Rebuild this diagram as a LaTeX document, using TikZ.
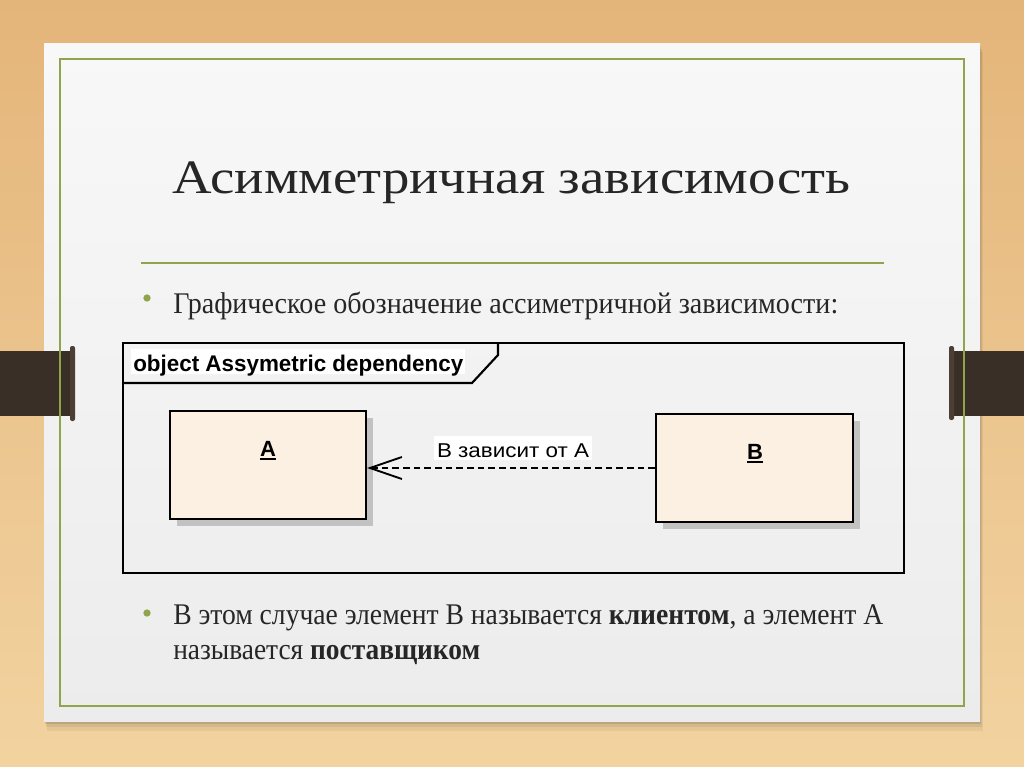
\documentclass[tikz,border=0pt]{standalone}
\usepackage{fontspec}
\setmainfont{Liberation Serif}
\setsansfont{Liberation Sans}
\usetikzlibrary{arrows.meta,shadows}
\definecolor{woodtop}{HTML}{E4B57A}
\definecolor{woodbot}{HTML}{F2D3A0}
\definecolor{paperA}{HTML}{F8F8F8}
\definecolor{paperB}{HTML}{ECECEC}
\definecolor{olive}{HTML}{8FA44C}
\definecolor{boxfill}{HTML}{FBF0E1}
\definecolor{shadowgray}{HTML}{C2C2C2}
\definecolor{ink}{HTML}{262626}
\definecolor{strapcol}{HTML}{3A2F27}
\definecolor{strapcap}{HTML}{4B3F35}
\newcommand\fitw[2]{\resizebox{#1}{\height}{#2}}
\newcommand\ulabel[1]{\vtop{\hbox{#1}\kern1.3pt\hrule height 1.6pt}}
\tikzset{
  slidetext/.style={anchor=base west, inner sep=0pt, text=ink},
  bulletdot/.style={circle, fill=olive, inner sep=0pt, minimum size=5.5pt},
  objbox/.style={draw=black, line width=1.6pt, fill=boxfill, inner sep=0pt,
    minimum height=81pt,
    drop shadow={shadow xshift=5.25pt, shadow yshift=-5.25pt, fill=shadowgray, opacity=1}},
  boxlabel/.style={anchor=base, inner sep=0pt, font=\sffamily\bfseries\fontsize{16.5pt}{18pt}\selectfont},
  deplabel/.style={anchor=base, fill=white, inner xsep=2.25pt, inner ysep=0pt,
    text height=15.75pt, text depth=2.25pt},
  dep/.style={line width=1.6pt, dash pattern=on 5pt off 3pt,
    -{Straight Barb[length=24pt,width=16.5pt,line width=1.4pt]}},
  framehead/.style={anchor=base west, fill=white, inner xsep=1.5pt, inner ysep=0pt,
    text height=16.5pt, text depth=2.25pt}
}
\begin{document}
\begin{tikzpicture}[x=0.75pt,y=-0.75pt]
\useasboundingbox (0,0) rectangle (1024,767);
% wood background
\shade[top color=woodtop,bottom color=woodbot] (0,0) rectangle (1024,767);
% paper shadow
\fill[black,opacity=0.05] (47,52) rectangle (983,731);
\fill[black,opacity=0.07] (46,49) rectangle (982,727);
\fill[black,opacity=0.10] (45,46) rectangle (981,724);
% paper
\shade[top color=paperA,bottom color=paperB] (44,44) rectangle (980,721);
% straps
\fill[strapcol] (0,351) rectangle (72,416);
\fill[strapcap,rounded corners=1.5pt] (70,346) rectangle (75,421);
\fill[strapcol] (953,351) rectangle (1024,416);
\fill[strapcap,rounded corners=1.5pt] (949,346) rectangle (954,420);
% green frame and divider
\draw[olive,line width=1.5pt] (60,59) rectangle (964,706);
\draw[olive,line width=2pt] (141,263) -- (884,263);
% title
\node[slidetext] (title) at (172,193)
  {\fitw{508.5pt}{\fontsize{36pt}{40pt}\selectfont Асимметричная зависимость}};
% bullet 1
\node[bulletdot] (dot1) at (147,298) {};
\node[slidetext] (line1) at (173,313)
  {\fitw{498.75pt}{\fontsize{22.5pt}{27pt}\selectfont Графическое обозначение ассиметричной зависимости:}};
% UML frame
\draw[line width=1.6pt] (123,343) rectangle (904,573);
\draw[line width=1.6pt] (123,383) -- (472,383) -- (498,355) -- (498,343);
\node[framehead] (head) at (131,371)
  {\fitw{247.5pt}{\sffamily\bfseries\fontsize{17pt}{18pt}\selectfont object Assymetric dependency}};
% objects
\node[objbox, minimum width=147pt] (A) at (268,465) {};
\node[objbox, minimum width=147.75pt] (B) at (754.5,468) {};
\node[boxlabel] (Alab) at (268,456) {\ulabel{A}};
\node[boxlabel] (Blab) at (755,459) {\ulabel{B}};
% dependency
\draw[dep] (B.west) -- (B.west -| A.east);
\node[deplabel] (deptext) at (513,457)
  {\fitw{114pt}{\sffamily\fontsize{15pt}{16pt}\selectfont В зависит от А}};
% bullet 2
\node[bulletdot] (dot2) at (147,613) {};
\node[slidetext] (line2) at (173,624)
  {\fitw{532.5pt}{\fontsize{22.5pt}{27pt}\selectfont В этом случае элемент В называется \textbf{клиентом}, а элемент А}};
\node[slidetext] (line3) at (173,659)
  {\fitw{230.25pt}{\fontsize{22.5pt}{27pt}\selectfont называется \textbf{поставщиком}}};
\end{tikzpicture}
\end{document}
